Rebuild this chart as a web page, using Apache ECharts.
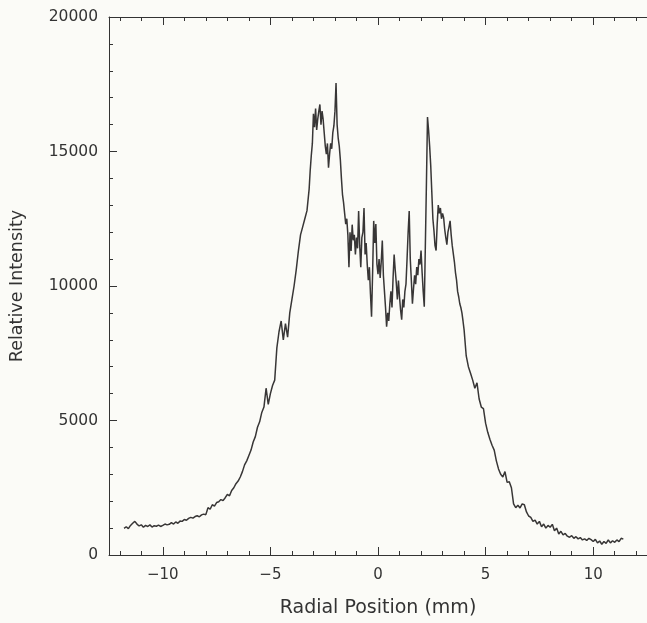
<!DOCTYPE html>
<html>
<head>
<meta charset="utf-8">
<script src="https://cdn.jsdelivr.net/npm/echarts@6/dist/echarts.min.js"></script>
<style>
html,body{margin:0;padding:0;background:#fbfbf7;}
#chart{width:647px;height:623px;}
</style>
</head>
<body>
<div id="chart"></div>
<script>
// Radial position (mm) vs relative intensity
const leftWing = [
[-11.8,990],[-11.7,1050],[-11.6,980],[-11.5,1100],[-11.4,1180],[-11.3,1250],[-11.2,1150],[-11.1,1080],[-11.0,1120],[-10.9,1030],
[-10.8,1100],[-10.7,1060],[-10.6,1120],[-10.5,1040],[-10.4,1090],[-10.3,1070],[-10.2,1110],[-10.1,1060],[-10.0,1100],[-9.9,1150],
[-9.8,1120],[-9.7,1140],[-9.6,1200],[-9.5,1150],[-9.4,1230],[-9.3,1180],[-9.2,1260],[-9.1,1250],[-9.0,1320],[-8.9,1290],
[-8.8,1360],[-8.7,1400],[-8.6,1370],[-8.5,1430],[-8.4,1460],[-8.3,1420],[-8.2,1490],[-8.1,1520],[-8.0,1500],[-7.9,1760],
[-7.8,1700],[-7.7,1870],[-7.6,1820],[-7.5,1950],[-7.4,1980],[-7.3,2060],[-7.2,2020],[-7.1,2130],[-7.0,2250],[-6.9,2200],
[-6.8,2400],[-6.7,2500],[-6.6,2650],[-6.5,2750],[-6.4,2900],[-6.3,3100],[-6.2,3350],[-6.1,3500],[-6.0,3700],[-5.9,3900],
[-5.8,4200],[-5.7,4400],[-5.6,4750],[-5.5,4950],[-5.4,5300],[-5.3,5500],[-5.2,6200],[-5.1,5600],[-5.0,6000],[-4.9,6300],
[-4.8,6500],[-4.7,7700],[-4.6,8300],[-4.5,8700],[-4.4,8000],[-4.3,8600],[-4.2,8100],[-4.1,9000],[-4.0,9500],[-3.9,10000],
[-3.8,10600],[-3.7,11300],[-3.6,11900],[-3.5,12200],[-3.4,12500],[-3.3,12800]
];
const core = [
[-3.2,13600],[-3.15,14300],[-3.1,14850],[-3.05,15300],[-3.0,16400],[-2.95,15900],[-2.9,16600],[-2.85,15800],[-2.8,16200],[-2.75,16500],
[-2.7,16750],[-2.65,16000],[-2.6,16500],[-2.55,16200],[-2.5,15700],[-2.45,15200],[-2.4,14900],[-2.35,15300],[-2.3,14400],[-2.25,14900],
[-2.2,15300],[-2.15,15100],[-2.1,15700],[-2.05,15950],[-2.0,16500],[-1.95,17550],[-1.9,16000],[-1.85,15500],[-1.8,15200],[-1.75,14700],
[-1.7,14000],[-1.65,13400],[-1.6,13100],[-1.55,12700],[-1.5,12300],[-1.45,12500],[-1.4,11900],[-1.35,10700],[-1.3,12000],[-1.25,11300],
[-1.2,12280],[-1.15,11700],[-1.1,11900],[-1.05,11170],[-1.0,11800],[-0.95,11400],[-0.9,12790],[-0.85,11500],[-0.8,10700],[-0.75,11800],
[-0.7,12000],[-0.65,12900],[-0.6,11170],[-0.55,11600],[-0.5,10800],[-0.45,10220],[-0.4,10700],[-0.35,9700],[-0.3,8860],[-0.25,10500],
[-0.2,12420],[-0.15,11600],[-0.1,12300],[-0.05,10810],[0.0,10440],[0.05,11000],[0.1,10300],[0.15,10900],[0.2,11690],[0.25,10400],
[0.3,9800],[0.35,9200],[0.4,8490],[0.45,9000],[0.5,8700],[0.55,9340],[0.6,9800],[0.65,9200],[0.7,10300],[0.75,11170],
[0.8,10600],[0.85,10100],[0.9,9500],[0.95,10200],[1.0,9590],[1.05,9100],[1.1,8750],[1.15,9500],[1.2,9200],[1.25,9800],
[1.3,10070],[1.35,11000],[1.4,12000],[1.45,12790],[1.5,11000],[1.55,10200],[1.6,9340],[1.65,9900],[1.7,10400],[1.75,10070],
[1.8,10700],[1.85,10400],[1.9,11000],[1.95,10800],[2.0,11320],[2.05,10500],[2.1,9800],[2.15,9230],[2.2,11500],[2.25,13800],
[2.3,16280],[2.35,15800],[2.4,15200],[2.45,14480],[2.5,13500],[2.55,12500],[2.6,12060],[2.65,11500],[2.7,11320],[2.75,12300],
[2.8,13010],[2.85,12700],[2.9,12900],[2.95,12500],[3.0,12700],[3.05,12540],[3.1,12100],[3.15,11800],[3.2,11540],[3.25,12000],
[3.3,12200],[3.35,12420],[3.4,11900],[3.45,11500],[3.5,11430],[3.55,10900],[3.6,10500],[3.65,10220],[3.7,9800],[3.75,9600],
[3.8,9340],[3.85,9200],[3.9,9000],[3.95,8700],[4.0,8380]
];
const rightWing = [
[4.1,7400],[4.2,7000],[4.3,6760],[4.4,6500],[4.5,6200],[4.6,6400],[4.7,5800],[4.8,5500],[4.9,5440],[5.0,4900],
[5.1,4560],[5.2,4300],[5.3,4080],[5.4,3900],[5.5,3500],[5.6,3200],[5.7,3000],[5.8,2900],[5.9,3100],[6.0,2700],
[6.1,2720],[6.2,2500],[6.3,1900],[6.4,1760],[6.5,1850],[6.6,1750],[6.7,1900],[6.8,1870],[6.9,1600],[7.0,1450],
[7.1,1400],[7.2,1250],[7.3,1300],[7.4,1150],[7.5,1250],[7.6,1050],[7.7,1150],[7.8,1000],[7.9,1100],[8.0,1030],
[8.1,1140],[8.2,900],[8.3,1000],[8.4,780],[8.5,880],[8.6,750],[8.7,800],[8.8,700],[8.9,660],[9.0,720],
[9.1,620],[9.2,680],[9.3,600],[9.4,650],[9.5,560],[9.6,600],[9.7,540],[9.8,620],[9.9,570],[10.0,500],
[10.1,580],[10.2,450],[10.3,520],[10.4,400],[10.5,500],[10.6,430],[10.7,560],[10.8,450],[10.9,530],[11.0,470],
[11.1,560],[11.2,500],[11.3,620],[11.4,590]
];
const xRange = [-12.5, 12.5];
const yRange = [0, 20000];
const yStep = 5000;
const xTitle = 'Radial Position (mm)';
const yTitle = 'Relative Intensity';

const profile = leftWing.concat(core, rightWing);

const chart = echarts.init(document.getElementById('chart'), null, {renderer: 'canvas'});
const axisColor = '#333';
const font = 'DejaVu Sans';
const textColor = '#333';
const xCommon = {
  type: 'value', min: xRange[0], max: xRange[1],
  axisLine: {onZero: false, lineStyle: {color: axisColor, width: 1}},
  axisTick: {inside: true, length: 8, lineStyle: {color: axisColor, width: 1}},
  minorTick: {show: true, splitNumber: 5, length: 4, lineStyle: {color: axisColor, width: 1}},
  splitLine: {show: false}
};
chart.setOption({
  backgroundColor: '#fbfbf7',
  animation: false,
  grid: {left: 109, top: 17, width: 548, height: 544},
  xAxis: [
    Object.assign({}, xCommon, {
      position: 'bottom',
      name: xTitle, nameLocation: 'middle', nameGap: 44,
      nameTextStyle: {fontFamily: font, fontSize: 19, color: textColor},
      axisLabel: {
        margin: 13, fontFamily: font, fontSize: 15, color: textColor,
        showMinLabel: false, showMaxLabel: false,
        formatter: v => (v < 0 ? '\u2212' + Math.abs(v) : String(v))
      }
    }),
    Object.assign({}, xCommon, {position: 'top', axisLabel: {show: false}})
  ],
  yAxis: {
    type: 'value', min: yRange[0], max: yRange[1], interval: yStep,
    name: yTitle, nameLocation: 'middle', nameGap: 83,
    nameTextStyle: {fontFamily: font, fontSize: 17.5, color: textColor},
    axisLine: {show: true, onZero: false, lineStyle: {color: axisColor, width: 1}},
    axisTick: {inside: true, length: 8, lineStyle: {color: axisColor, width: 1}},
    minorTick: {show: true, splitNumber: 5, length: 4, lineStyle: {color: axisColor, width: 1}},
    axisLabel: {margin: 11, fontFamily: font, fontSize: 15.5, color: textColor, formatter: v => String(v)},
    splitLine: {show: false}
  },
  series: [{
    type: 'line', data: profile, showSymbol: false, symbol: 'none',
    lineStyle: {color: '#383636', width: 1.5}, clip: true
  }]
});
</script>
</body>
</html>
